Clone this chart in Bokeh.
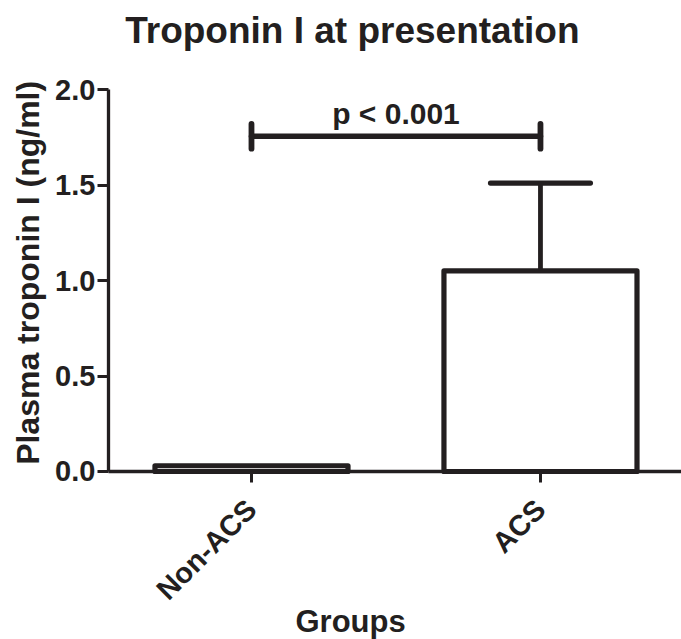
import math
from bokeh.plotting import figure
from bokeh.models import Range1d, FixedTicker, Label
from bokeh.embed import file_html
from bokeh.resources import INLINE

# ---- data ----
groups = ["Non-ACS", "ACS"]
means = [0.03, 1.05]
errors = [0.0, 0.46]
y_ticks = [0.0, 0.5, 1.0, 1.5, 2.0]
y_tick_labels = ["0.0", "0.5", "1.0", "1.5", "2.0"]
title_text = "Troponin I at presentation"
x_label = "Groups"
y_label = "Plasma troponin I (ng/ml)"
p_text = "p < 0.001"
bracket_y = 1.755

INK = "#231f20"
FONT = "Liberation Sans"

xs = list(range(len(groups)))

# frame covers the whole canvas; axes are pinned with fixed_location
X_LO, X_HI = -0.8685, 1.488
Y_LO, Y_HI = -0.8796, 2.466
AX_X0 = -0.495

p = figure(width=681, height=639, output_backend="svg", toolbar_location=None,
           x_range=Range1d(X_LO, X_HI), y_range=Range1d(Y_LO, Y_HI),
           min_border=0)
p.outline_line_color = None
p.xgrid.grid_line_color = None
p.ygrid.grid_line_color = None
p.background_fill_color = "white"
p.border_fill_color = "white"

# bars
bar_w = 0.668
p.vbar(x=xs, top=means, bottom=0, width=bar_w, fill_color="white",
       line_color=INK, line_width=5.2, line_join="round")

# error bars (upper only)
cap = 0.173
ex = [x for x, e in zip(xs, errors) if e > 0]
em = [m for m, e in zip(means, errors) if e > 0]
ee = [m + e for m, e in zip(means, errors) if e > 0]
p.segment(x0=ex, y0=em, x1=ex, y1=ee, line_color=INK, line_width=4.8)
p.segment(x0=[x - cap for x in ex], y0=ee, x1=[x + cap for x in ex], y1=ee,
          line_color=INK, line_width=5.2, line_cap="round")

# significance bracket
tick_h = 0.065
p.segment(x0=[xs[0]], y0=[bracket_y], x1=[xs[1]], y1=[bracket_y],
          line_color=INK, line_width=5.5, line_cap="round")
p.segment(x0=[xs[0], xs[1]], y0=[bracket_y - tick_h] * 2,
          x1=[xs[0], xs[1]], y1=[bracket_y + tick_h] * 2,
          line_color=INK, line_width=5.8, line_cap="round")
p.add_layout(Label(x=(xs[0] + xs[1]) / 2, y=bracket_y + 0.035, text=p_text,
                   text_align="center", text_baseline="bottom",
                   text_font=FONT, text_font_style="bold",
                   text_font_size="30px", text_color=INK))

# title, axis titles
p.add_layout(Label(x=0.349, y=2.199, text=title_text,
                   text_align="center", text_baseline="bottom",
                   text_font=FONT, text_font_style="bold",
                   text_font_size="37px", text_color=INK))
p.add_layout(Label(x=0.343, y=-0.876, text=x_label,
                   text_align="center", text_baseline="bottom",
                   text_font=FONT, text_font_style="bold",
                   text_font_size="31px", text_color=INK))
p.add_layout(Label(x=-0.772, y=1.04, text=y_label, angle=math.pi / 2,
                   text_align="center", text_baseline="middle",
                   text_font=FONT, text_font_style="bold",
                   text_font_size="32px", text_color=INK))

# axes
for ax in (p.xaxis[0], p.yaxis[0]):
    ax.axis_line_width = 3.3
    ax.axis_line_color = INK
    ax.major_tick_line_width = 3
    ax.major_tick_line_color = INK
    ax.minor_tick_line_color = None
    ax.major_tick_in = 0
    ax.major_tick_out = 11
    ax.major_label_text_font = FONT
    ax.major_label_text_font_style = "bold"
    ax.major_label_text_font_size = "29px"
    ax.major_label_text_color = INK

p.yaxis.fixed_location = AX_X0
p.yaxis.bounds = (y_ticks[0], y_ticks[-1])
p.yaxis.ticker = FixedTicker(ticks=y_ticks)
p.yaxis.major_label_overrides = {t: l for t, l in zip(y_ticks, y_tick_labels)}
p.yaxis.major_label_standoff = 2

p.xaxis.fixed_location = 0
p.xaxis.bounds = (AX_X0, X_HI)
p.xaxis.ticker = FixedTicker(ticks=xs)
p.xaxis.major_label_overrides = {x: g for x, g in zip(xs, groups)}
p.xaxis.major_label_orientation = math.pi / 4
p.xaxis.major_label_standoff = 22

open("out.html", "w").write(file_html(p, INLINE))
